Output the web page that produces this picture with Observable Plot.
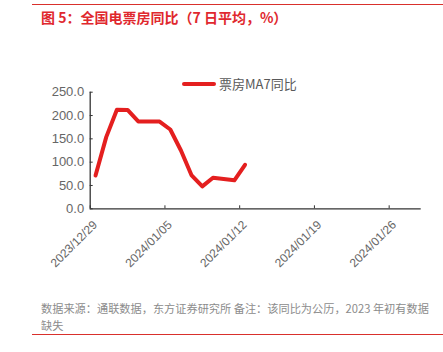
<!DOCTYPE html>
<html><head><meta charset="utf-8">
<script src="https://cdn.jsdelivr.net/npm/d3@7"></script>
<script src="https://cdn.jsdelivr.net/npm/@observablehq/plot@0.6"></script>
<style>
body{margin:0;background:#fff;}
#wrap{position:relative;width:443px;height:352px;overflow:hidden;font-family:"Liberation Sans","Noto Sans CJK SC",sans-serif;}
.rule{position:absolute;left:32px;width:411px;height:0;border-top:1.3px solid #d9302c;}
#title{position:absolute;left:41px;top:7px;font-family:"Noto Sans CJK SC",sans-serif;font-weight:bold;font-size:14px;color:#e0282e;white-space:nowrap;}
#legend{position:absolute;left:182px;top:74px;font-family:"Noto Sans CJK SC",sans-serif;font-size:13px;color:#595959;white-space:nowrap;display:flex;align-items:center;}
#legend span.sw{display:inline-block;width:34px;height:4px;background:#e41f1f;margin-right:3px;border-radius:2px;}
#caption{position:absolute;left:41px;top:300px;font-family:"Noto Sans CJK SC",sans-serif;font-size:11.2px;line-height:17px;color:#8c8c8c;white-space:nowrap;}
#chart{position:absolute;left:0;top:70px;}
</style></head>
<body>
<div id="wrap">
  <div class="rule" style="top:4px"></div>
  <div id="title">图 5：全国电票房同比（7 日平均，%）</div>
  <div id="legend"><span class="sw"></span>票房MA7同比</div>
  <div id="chart"></div>
  <div id="caption">数据来源：通联数据，东方证券研究所 备注：该同比为公历，2023 年初有数据<br>缺失</div>
  <div class="rule" style="top:334px"></div>
</div>
<script>
const dates = ["2023-12-29","2023-12-30","2023-12-31","2024-01-01","2024-01-02","2024-01-03","2024-01-04","2024-01-05","2024-01-06","2024-01-07","2024-01-08","2024-01-09","2024-01-10","2024-01-11","2024-01-12"];
const values = [71.5,153.7,212.4,212.0,187.3,187.0,187.0,170.0,125.0,71.5,48.0,66.5,64.0,61.0,94.4];
const xTickLabels = ["2023-12-29","2024-01-05","2024-01-12","2024-01-19","2024-01-26"];
const yTicks = [0,50,100,150,200,250];
const xDomain = ["2023-12-29","2024-01-29"];

const half = 12*3600e3;
const rows = dates.map((d,i)=>({date:new Date(Date.parse(d)+half), value:values[i]}));
const xt = xTickLabels.map(d=>new Date(d));
const fmt = d3.utcFormat("%Y/%m/%d");

const chart = Plot.plot({
  width:443, height:230,
  marginLeft:89.7, marginRight:22.3, marginTop:21.7, marginBottom:91.7,
  style:{fontFamily:"'Liberation Sans','Noto Sans CJK SC',sans-serif", fontSize:"13px", color:"#666", background:"transparent"},
  x:{type:"utc", domain:xDomain.map(d=>new Date(d))},
  y:{domain:[0,250]},
  marks:[
    Plot.axisY({ticks:yTicks, tickFormat:d=>d.toFixed(1), tickSize:0, tickPadding:6, label:null, fill:"#666", fontSize:13}),
    Plot.axisY({ticks:yTicks, tickSize:-3, text:null, label:null, stroke:"#333"}),
    Plot.axisX({ticks:xt, tickFormat:fmt, tickSize:0, tickPadding:4, tickRotate:-45, label:null, fill:"#666", fontSize:12, dx:5, dy:10}),
    Plot.axisX({ticks:xt, tickSize:-3, text:null, label:null, stroke:"#333"}),
    Plot.ruleX([new Date(xDomain[0])], {stroke:"#333", strokeWidth:1.3}),
    Plot.ruleY([0], {stroke:"#333", strokeWidth:1.3}),
    Plot.line(rows, {x:"date", y:"value", stroke:"#e41f1f", strokeWidth:4, strokeLinejoin:"round"})
  ]
});
document.getElementById("chart").appendChild(chart);
</script>
</body></html>
